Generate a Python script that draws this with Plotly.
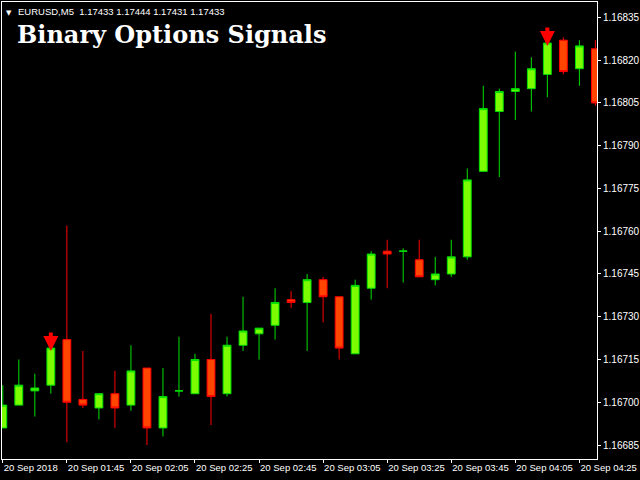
import plotly.graph_objects as go

# M5 bars, 20 Sep 2018
times = [
    "01:25", "01:30", "01:35", "01:40", "01:45", "01:50", "01:55", "02:00",
    "02:05", "02:10", "02:15", "02:20", "02:25", "02:30", "02:35", "02:40",
    "02:45", "02:50", "02:55", "03:00", "03:05", "03:10", "03:15", "03:20",
    "03:25", "03:30", "03:35", "03:40", "03:45", "03:50", "03:55", "04:00",
    "04:05", "04:10", "04:15", "04:20", "04:25", "04:30",
]
opens = [
    1.16691, 1.16699, 1.16704, 1.16706, 1.16722, 1.16701, 1.16698, 1.16703,
    1.16699, 1.16712, 1.16691, 1.16704, 1.16703, 1.16715, 1.16703, 1.16720,
    1.16724, 1.16727, 1.16736, 1.16735, 1.16743, 1.16737, 1.16717, 1.16740,
    1.16753, 1.16753, 1.16750, 1.16743, 1.16745, 1.16751, 1.16781, 1.16802,
    1.16809, 1.16810, 1.16815, 1.16827, 1.16817, 1.16824,
]
highs = [
    1.16706, 1.16715, 1.16710, 1.16719, 1.16762, 1.16718, 1.16703, 1.16711,
    1.16720, 1.16712, 1.16712, 1.16723, 1.16717, 1.16731, 1.16723, 1.16737,
    1.16726, 1.16740, 1.16739, 1.16745, 1.16744, 1.16737, 1.16743, 1.16753,
    1.16757, 1.16754, 1.16757, 1.16751, 1.16757, 1.16782, 1.16811, 1.16810,
    1.16823, 1.16821, 1.16827, 1.16828, 1.16827, 1.16827,
]
lows = [
    1.16691, 1.16699, 1.16695, 1.16703, 1.16686, 1.16698, 1.16694, 1.16691,
    1.16697, 1.16685, 1.16688, 1.16702, 1.16703, 1.16692, 1.16702, 1.16718,
    1.16715, 1.16722, 1.16733, 1.16718, 1.16728, 1.16715, 1.16717, 1.16736,
    1.16740, 1.16742, 1.16744, 1.16741, 1.16744, 1.16750, 1.16781, 1.16779,
    1.16799, 1.16802, 1.16807, 1.16815, 1.16811, 1.16804,
]
closes = [
    1.16699, 1.16706, 1.16705, 1.16719, 1.16700, 1.16699, 1.16703, 1.16698,
    1.16711, 1.16691, 1.16702, 1.16704, 1.16715, 1.16702, 1.16720, 1.16725,
    1.16726, 1.16735, 1.16735, 1.16743, 1.16737, 1.16719, 1.16741, 1.16752,
    1.16752, 1.16753, 1.16744, 1.16745, 1.16751, 1.16778, 1.16803, 1.16809,
    1.16810, 1.16817, 1.16826, 1.16816, 1.16825, 1.16805,
]

# sell signals (arrow tip price)
signal_times = ["01:40", "04:15"]
signal_prices = [1.16718, 1.16825]

tick_times = ["01:25", "01:45", "02:05", "02:25", "02:45", "03:05",
              "03:25", "03:45", "04:05", "04:25"]
tick_labels = ["20 Sep 2018", "20 Sep 01:45", "20 Sep 02:05", "20 Sep 02:25",
               "20 Sep 02:45", "20 Sep 03:05", "20 Sep 03:25", "20 Sep 03:45",
               "20 Sep 04:05", "20 Sep 04:25"]

DAY = "2018-09-20 "
x = [DAY + t for t in times]

fig = go.Figure()
fig.add_trace(go.Candlestick(
    x=x, open=opens, high=highs, low=lows, close=closes,
    increasing=dict(line=dict(color="#00E000", width=1), fillcolor="#7CFC00"),
    decreasing=dict(line=dict(color="#FF0000", width=1), fillcolor="#FF4500"),
    whiskerwidth=0,
    showlegend=False,
    hoverinfo="skip",
))

for t, p in zip(signal_times, signal_prices):
    fig.add_annotation(
        x=DAY + t, y=p, ax=0, ay=-20, text="",
        showarrow=True, arrowhead=2, arrowsize=0.75, arrowwidth=4,
        arrowcolor="#FF0000",
    )

fig.add_annotation(
    xref="paper", yref="paper", x=0, y=1, xanchor="left", yanchor="top",
    xshift=2, yshift=-5, showarrow=False,
    text="▼", font=dict(family="DejaVu Sans", size=7, color="white"),
)
fig.add_annotation(
    xref="paper", yref="paper", x=0, y=1, xanchor="left", yanchor="top",
    xshift=14, yshift=-2, showarrow=False,
    text="EURUSD,M5&nbsp;&nbsp;1.17433 1.17444 1.17431 1.17433",
    font=dict(family="Liberation Sans", size=9.5, color="white"),
)
fig.add_annotation(
    xref="paper", yref="paper", x=0, y=1, xanchor="left", yanchor="top",
    xshift=13, yshift=-16, showarrow=False,
    text="<b>Binary Options Signals</b>",
    font=dict(family="DejaVu Serif", size=24, color="white"),
)

fig.update_layout(
    width=640, height=480,
    paper_bgcolor="black", plot_bgcolor="black",
    margin=dict(l=2, r=43, t=2, b=21),
    font=dict(family="Liberation Sans", size=10, color="white"),
    xaxis=dict(
        rangeslider=dict(visible=False),
        range=[DAY + "01:24:45", DAY + "04:30:30"],
        tickvals=[DAY + t for t in tick_times],
        ticktext=tick_labels,
        ticklabelposition="outside right",
        tickangle=0, automargin=False,
        ticks="outside", ticklen=3, tickcolor="white",
        showgrid=False, zeroline=False,
        showline=True, linecolor="white", linewidth=1, mirror=True,
        tickfont=dict(size=9.5, color="white"),
    ),
    yaxis=dict(
        side="right",
        range=[1.166801, 1.168404],
        tick0=1.16685, dtick=0.00015, tickformat=".5f",
        automargin=False,
        ticks="outside", ticklen=3, tickcolor="white",
        showgrid=False, zeroline=False,
        showline=True, linecolor="white", linewidth=1, mirror=True,
        tickfont=dict(size=10, color="white"),
    ),
)

# the page's default body margin would push the chart 8px down/right
fig.write_html(
    "out.html",
    config={"displayModeBar": False},
    post_script="document.body.style.margin='0';",
)
